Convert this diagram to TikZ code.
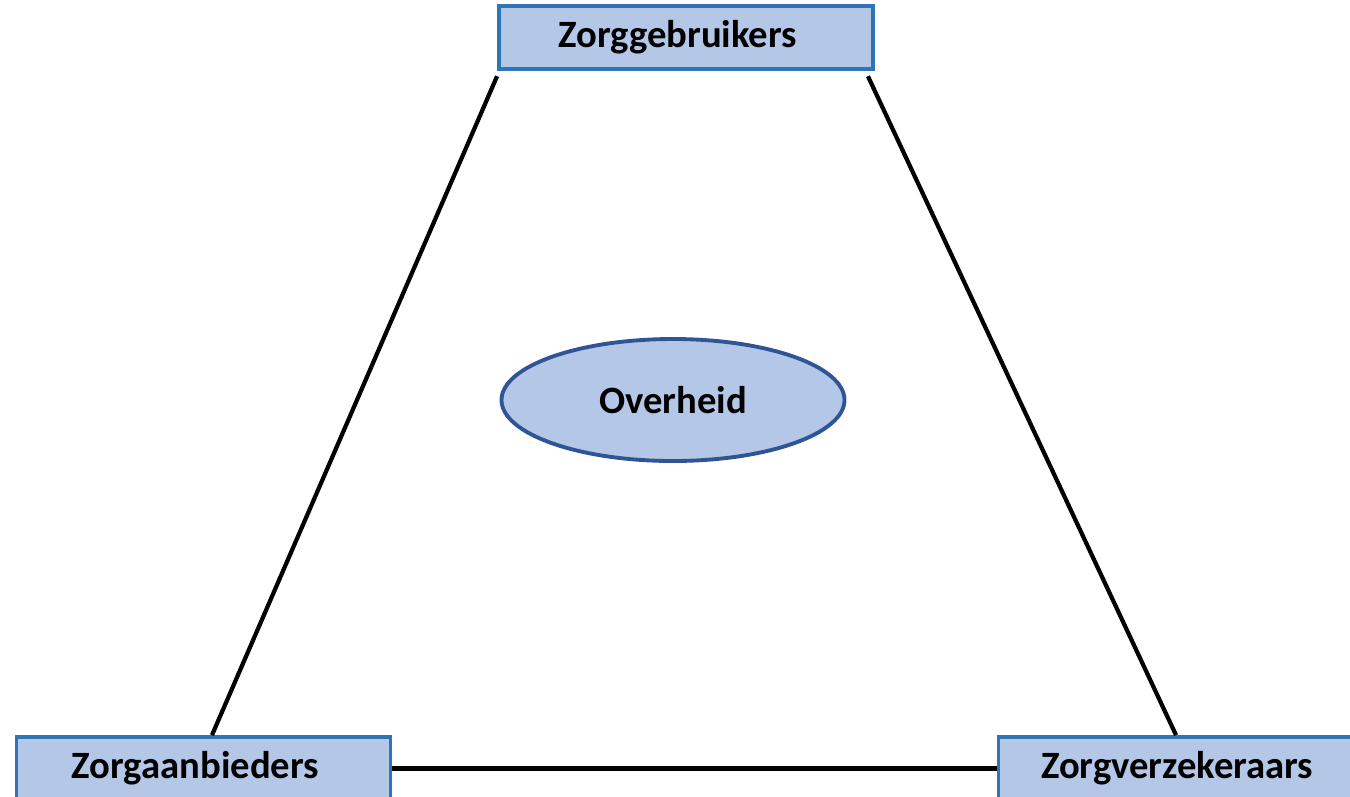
\documentclass[tikz,border=0pt]{standalone}
\usepackage{fontspec}
\setmainfont{Carlito}
\usepackage{tikz}
\usetikzlibrary{shapes.geometric,positioning}
\definecolor{boxfill}{HTML}{B4C7E7}
\definecolor{boxline}{HTML}{2E75B6}
\definecolor{ovalline}{HTML}{2F5597}
\tikzstyle{party} = [rectangle, draw=boxline, fill=boxfill, line width=2.2pt, minimum width=7.48cm, minimum height=1.26cm, inner sep=0pt, font=\fontsize{22}{26}\selectfont\bfseries, execute at end node=\hspace{0.33cm}]
\tikzstyle{gov} = [ellipse, draw=ovalline, fill=boxfill, line width=2.2pt, minimum width=6.86cm, minimum height=2.44cm, inner sep=0pt, font=\fontsize{22}{26}\selectfont\bfseries]
\tikzstyle{link} = [draw, line width=2.4pt]

\begin{document}
\begin{tikzpicture}
			\useasboundingbox (0,0) rectangle (27,-15.92);
			\node [party] (gebruikers) at (13.72,-0.75) {Zorggebruikers};
			\node [party] (aanbieders) at (4.07,-15.37) {Zorgaanbieders};
			\node [party] (verzekeraars) at (23.71,-15.37) {Zorgverzekeraars};
			\node [gov] (overheid) at (13.46,-8.0) {Overheid};
			\path [link] ([yshift=-3pt]gebruikers.south west) -- ([xshift=0.17cm]aanbieders.north);
			\path [link] ([xshift=-0.14cm,yshift=-3pt]gebruikers.south east) -- ([xshift=-0.19cm]verzekeraars.north);
			\path [link] (aanbieders) -- (verzekeraars);
		\end{tikzpicture}
\end{document}
